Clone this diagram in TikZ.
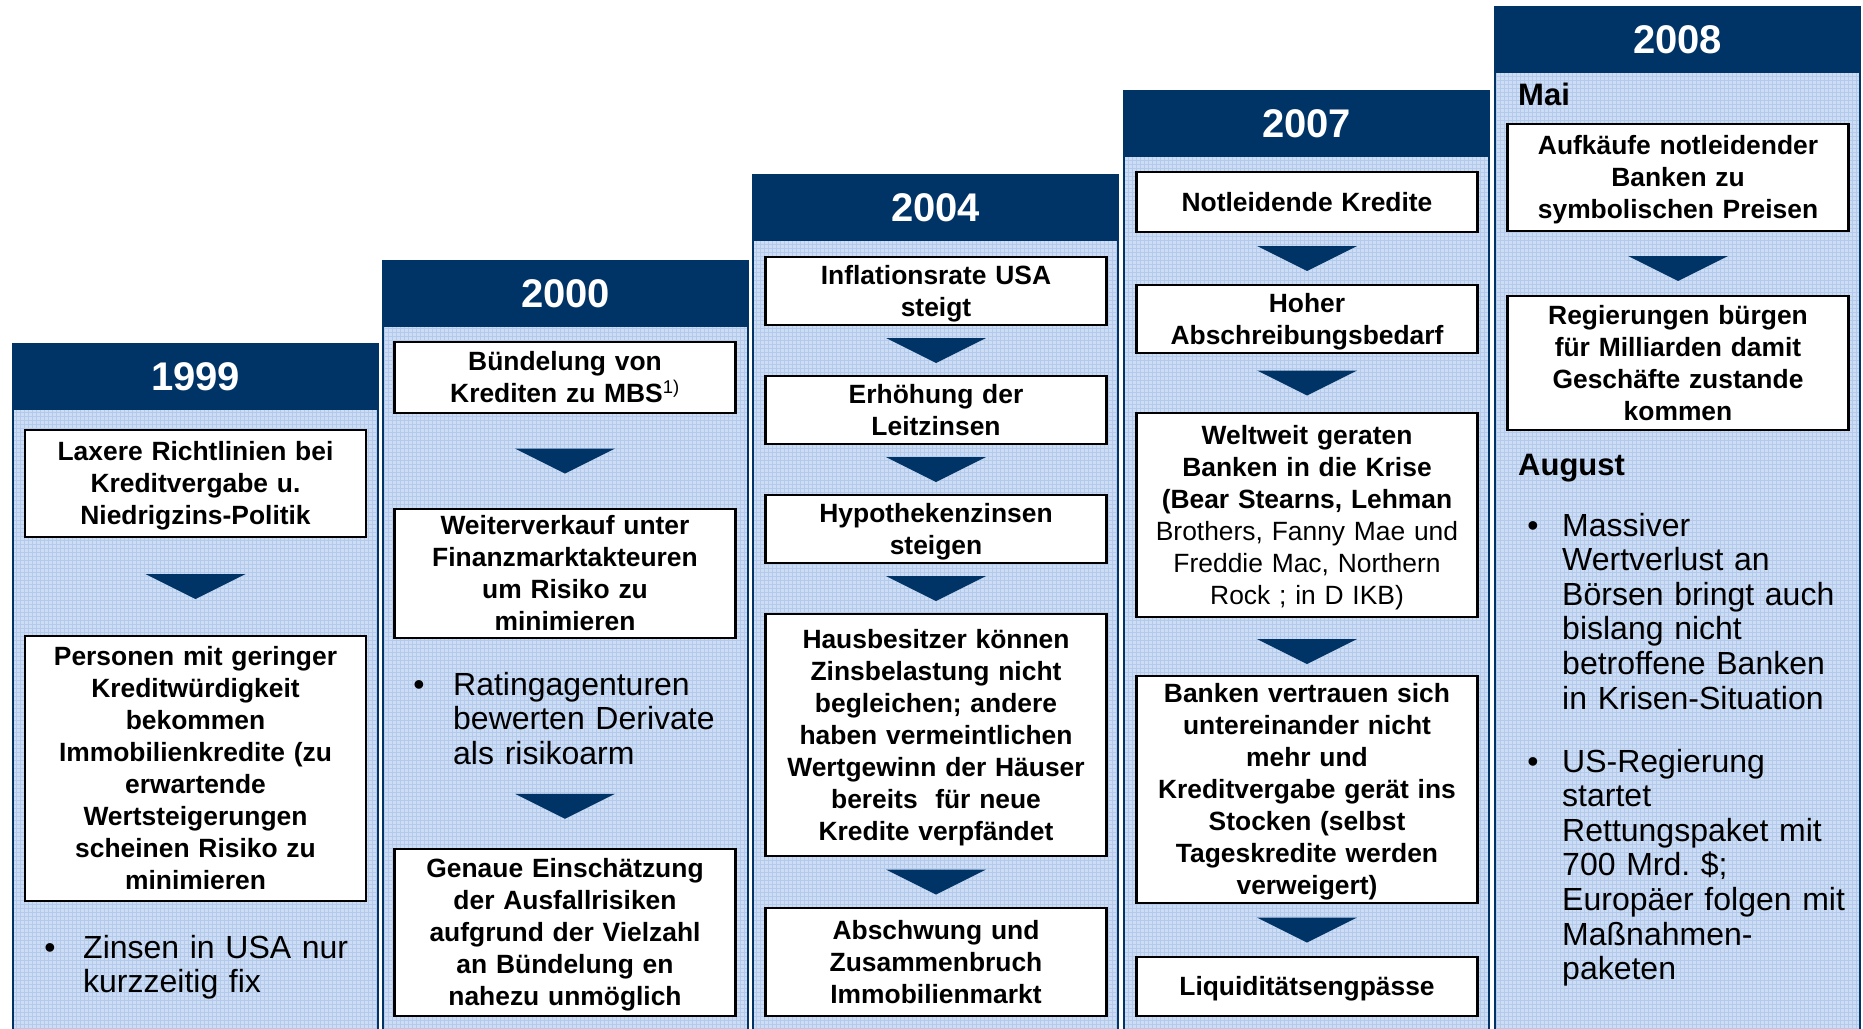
\documentclass[tikz,border=0pt]{standalone}
\usepackage{fontspec}
\setmainfont{Liberation Sans}
\usetikzlibrary{calc}
\frenchspacing
\definecolor{navy}{RGB}{0,51,102}
\definecolor{bodyblue}{RGB}{204,221,244}
\definecolor{gridblue}{RGB}{180,202,236}
\newcommand\bxstrut{\rule[-0.212em]{0pt}{1.117em}}
\tikzset{
  boxnode/.style={draw=black, line width=2.2pt, fill=white, inner sep=0pt,
    minimum width=341pt, text width=338pt, align=center,
    font=\fontsize{26.4}{32}\selectfont\bfseries\frenchspacing,
    execute at begin node=\bxstrut, execute at end node=\bxstrut},
  headbox/.style={fill=navy, text=white, inner sep=0pt, anchor=north west,
    minimum width=365pt, minimum height=66pt,
    font=\fontsize{40}{48}\selectfont\bfseries},
  bultxt/.style={anchor=base west, inner sep=0pt, text width=300pt, align=left,
    font=\fontsize{32}{34.6}\selectfont\frenchspacing},
  bulletdot/.style={anchor=base, inner sep=0pt, font=\fontsize{32}{34.6}\selectfont},
  monthtxt/.style={anchor=base west, inner sep=0pt, font=\fontsize{31}{36}\selectfont\bfseries},
  downarr/.pic={\fill[navy] (-50,-12.5) -- (50,-12.5) -- (0,12.5) -- cycle;}
}
\begin{document}
\begin{tikzpicture}[x=1pt, y=-1pt]
\useasboundingbox (0,0) rectangle (1863,1028);
\clip (0,0) rectangle (1863,1028);
% columns
\foreach \xl/\hy/\yr/\nm in {13/344/1999/y1, 383/261/2000/y2, 753/175/2004/y3, 1124/91/2007/y4, 1495/7/2008/y5} {
  \fill[bodyblue] (\xl,\hy) rectangle (\xl+365,1040);
  \draw[gridblue, line width=0.45pt, step=4pt] (\xl,\hy) grid (\xl+365,1040);
  \node[headbox] (\nm) at (\xl,\hy) {\yr};
  \draw[navy, line width=2.5pt] (\xl,\hy) rectangle (\xl+365,1040);
}
% ---- 1999
\node[boxnode, minimum height=107] (a1) at (195.5,483.5) {Laxere Richtlinien bei\\Kreditvergabe u.\\Niedrigzins-Politik};
\node[boxnode, minimum height=265] (a2) at (195.5,768.5) {Personen mit geringer\\Kreditwürdigkeit\\bekommen\\Immobilienkredite (zu\\erwartende\\Wertsteigerungen\\scheinen Risiko zu\\minimieren};
\node[bulletdot] (a3d) at (50,958) {\textbullet};
\node[bultxt] (a3) at (83,958) {Zinsen in USA nur\\kurzzeitig fix};
\pic at ($(a1.south)!0.5!(a2.north)$) {downarr};
% ---- 2000
\node[boxnode, minimum height=71] (b1) at (565,377.5) {Bündelung von\\Krediten zu MBS\textsuperscript{\mdseries 1)}};
\node[boxnode, minimum height=129] (b2) at (565,573.5) {Weiterverkauf unter\\Finanzmarktakteuren\\um Risiko zu\\minimieren};
\node[bulletdot] (b3d) at (419,695) {\textbullet};
\node[bultxt] (b3t) at (453,695) {Ratingagenturen\\bewerten Derivate\\als risikoarm};
\node[boxnode, minimum height=167] (b3) at (565,932.5) {Genaue Einschätzung\\der Ausfallrisiken\\aufgrund der Vielzahl\\an Bündelung en\\nahezu unmöglich};
\pic at ($(b1.south)!0.5!(b2.north)$) {downarr};
\pic at ($(b3.north)!0.5!(b3.north |- b3t.south)$) {downarr};
% ---- 2004
\node[boxnode, minimum height=68] (c1) at (936,291) {Inflationsrate USA\\steigt};
\node[boxnode, minimum height=68] (c2) at (936,410) {Erhöhung der\\Leitzinsen};
\node[boxnode, minimum height=68] (c3) at (936,529) {Hypothekenzinsen\\steigen};
\node[boxnode, minimum height=242] (c4) at (936,735) {Hausbesitzer können\\Zinsbelastung nicht\\begleichen; andere\\haben vermeintlichen\\Wertgewinn der Häuser\\bereits\ \ für neue\\Kredite verpfändet};
\node[boxnode, minimum height=108] (c5) at (936,962) {Abschwung und\\Zusammenbruch\\Immobilienmarkt};
\pic at ($(c1.south)!0.5!(c2.north)$) {downarr};
\pic at ($(c2.south)!0.5!(c3.north)$) {downarr};
\pic at ($(c3.south)!0.5!(c4.north)$) {downarr};
\pic at ($(c4.south)!0.5!(c5.north)$) {downarr};
% ---- 2007
\node[boxnode, minimum height=60] (d1) at (1307,202) {Notleidende Kredite};
\node[boxnode, minimum height=68] (d2) at (1307,319) {Hoher\\Abschreibungsbedarf};
\node[boxnode, minimum height=204] (d3) at (1307,515) {Weltweit geraten\\Banken in die Krise\\(Bear Stearns, Lehman\\\mdseries Brothers, Fanny Mae und\\Freddie Mac, Northern\\Rock ; in D IKB)};
\node[boxnode, minimum height=227] (d4) at (1307,789.5) {Banken vertrauen sich\\untereinander nicht\\mehr und\\Kreditvergabe gerät ins\\Stocken (selbst\\Tageskredite werden\\verweigert)};
\node[boxnode, minimum height=59] (d5) at (1307,986.5) {Liquiditätsengpässe};
\pic at ($(d1.south)!0.5!(d2.north)$) {downarr};
\pic at ($(d2.south)!0.5!(d3.north)$) {downarr};
\pic at ($($(d3.south)!0.5!(d4.north)$)+(0,5)$) {downarr};
\pic at ($(d4.south)!0.5!(d5.north)$) {downarr};
% ---- 2008
\node[monthtxt] (mai) at (1518,105) {Mai};
\node[boxnode, minimum height=107] (e1) at (1678,177.5) {Aufkäufe notleidender\\Banken zu\\symbolischen Preisen};
\node[boxnode, minimum height=134] (e2) at (1678,363) {Regierungen bürgen\\für Milliarden damit\\Geschäfte zustande\\kommen};
\pic at ($($(e1.south)!0.5!(e2.north)$)+(0,5)$) {downarr};
\node[monthtxt] (aug) at (1518,475) {August};
\node[bulletdot] (e3d) at (1533,536) {\textbullet};
\node[bultxt] (e3) at (1562,536) {Massiver\\Wertverlust an\\Börsen bringt auch\\bislang nicht\\betroffene Banken\\in Krisen-Situation};
\node[bulletdot] (e4d) at (1533,772) {\textbullet};
\node[bultxt] (e4) at (1562,772) {US-Regierung\\startet\\Rettungspaket mit\\700 Mrd. \$;\\Europäer folgen mit\\Maßnahmen-\\paketen};
\end{tikzpicture}
\end{document}
